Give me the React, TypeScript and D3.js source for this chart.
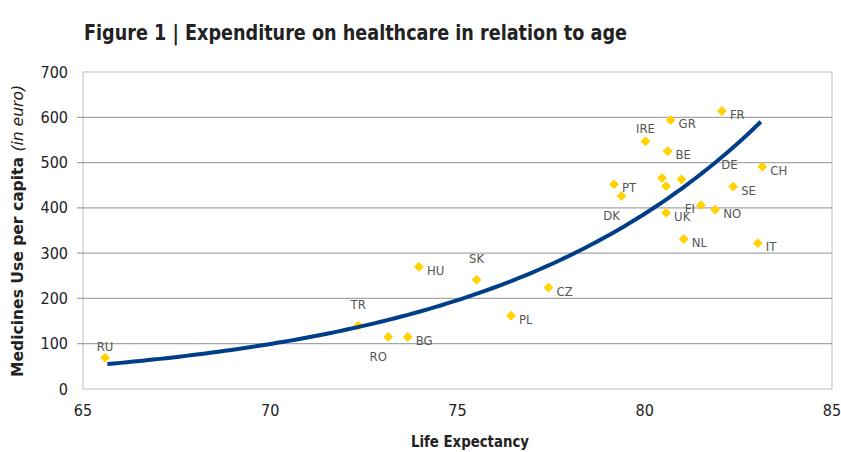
import React from "react";
import * as d3 from "d3";

// ---- data ----
const countries = ["RU","TR","RO","BG","HU","SK","PL","CZ","PT","DK","IRE","GR","BE","","","DE","UK","NL","FI","NO","SE","FR","CH","IT"];
const lifeExpectancy = [65.59,72.35,73.15,73.67,73.97,75.51,76.43,77.43,79.18,79.38,80.02,80.69,80.61,80.46,80.57,80.98,80.57,81.04,81.5,81.88,82.36,82.06,83.14,83.02];
const medicinesUse = [69,140,115,115,270,241,162,224,452,426,547,594,525,466,448,463,389,331,406,396,447,614,491,322];
const labelPlacement = ["aboveL","aboveHigh","belowL","right","right","aboveHigh","right","right","right","belowL","above","right","right","none","none","de","right","right","left","right","right","right","right","right"];
// exponential trendline: start and end points
const trendX = [65.65, 83.1];
const trendY = [55, 590];
const xTicks = [65,70,75,80,85];
const yTicks = [0,100,200,300,400,500,600,700];

const W = 841, H = 452;
const plot = { left: 83, right: 832, top: 72, bottom: 389 };
const FONT = "'DejaVu Sans Condensed', 'DejaVu Sans', sans-serif";
const cond: React.CSSProperties = { fontStretch: "condensed" };

export default function App() {
  const x = d3.scaleLinear().domain([65, 85]).range([plot.left, plot.right]);
  const y = d3.scaleLinear().domain([0, 700]).range([plot.bottom, plot.top]);

  const b = Math.log(trendY[1] / trendY[0]) / (trendX[1] - trendX[0]);
  const trendPts = d3.range(0, 101).map(i => {
    const xv = trendX[0] + (trendX[1] - trendX[0]) * i / 100;
    return [xv, trendY[0] * Math.exp(b * (xv - trendX[0]))] as [number, number];
  });
  const line = d3.line<[number, number]>().x(d => x(d[0])).y(d => y(d[1]));

  const diamond = d3.symbol().type(d3.symbolDiamond2).size(62)();

  const labelPos = (p: string, px: number, py: number) => {
    switch (p) {
      case "right": return { x: px + 8, y: py + 8, anchor: "start" };
      case "left": return { x: px - 6, y: py + 8, anchor: "end" };
      case "above": return { x: px, y: py - 8, anchor: "middle" };
      case "aboveL": return { x: px, y: py - 7, anchor: "middle" };
      case "aboveHigh": return { x: px, y: py - 17, anchor: "middle" };
      case "belowL": return { x: px - 10, y: py + 24, anchor: "middle" };
      case "de": return { x: px + 48, y: py - 10, anchor: "middle" };
      default: return null;
    }
  };

  return (
    <svg width={W} height={H} style={{ display: "block", position: "absolute", left: 0, top: 0, background: "#fff" }}>
      <text x={84} y={40} fontFamily={FONT} style={cond} fontWeight="bold" fontSize={22} fill="#222"
        textLength={543} lengthAdjust="spacingAndGlyphs">Figure 1 | Expenditure on healthcare in relation to age</text>

      <rect x={plot.left} y={plot.top} width={plot.right - plot.left} height={plot.bottom - plot.top}
        fill="none" stroke="#c8c8c8" strokeWidth={1.2} />
      {yTicks.filter(t => t > 0 && t < 700).map(t => (
        <line key={t} x1={plot.left - 6} x2={plot.right} y1={y(t)} y2={y(t)} stroke="#a6a6a6" strokeWidth={1.3} />
      ))}
      {yTicks.map(t => (
        <text key={"yl"+t} x={68} y={y(t) + 5.5} textAnchor="end" fontFamily={FONT} style={cond} fontSize={16} fill="#222">{t}</text>
      ))}
      {xTicks.map(t => (
        <text key={"xl"+t} x={x(t)} y={416} textAnchor="middle" fontFamily={FONT} style={cond} fontSize={16} fill="#222">{t}</text>
      ))}

      <text x={470} y={447} textAnchor="middle" fontFamily={FONT} style={cond} fontWeight="bold" fontSize={16} fill="#222"
        textLength={118} lengthAdjust="spacingAndGlyphs">Life Expectancy</text>
      <text transform="translate(23,231) rotate(-90)" textAnchor="middle" fontFamily={FONT} style={cond} fontSize={16} fill="#222"
        textLength={292} lengthAdjust="spacingAndGlyphs">
        <tspan fontWeight="bold">Medicines Use per capita </tspan><tspan fontStyle="italic">(in euro)</tspan>
      </text>

      {countries.map((c, i) => (
        <path key={"p"+i} d={diamond} transform={`translate(${x(lifeExpectancy[i])},${y(medicinesUse[i])})`} fill="#FFD200" />
      ))}

      <path d={line(trendPts) || ""} fill="none" stroke="#003f87" strokeWidth={4} />

      {countries.map((c, i) => {
        const p = labelPos(labelPlacement[i], x(lifeExpectancy[i]), y(medicinesUse[i]));
        if (!p || !c) return null;
        return <text key={"l"+i} x={p.x} y={p.y} textAnchor={p.anchor as any} fontFamily={FONT} style={cond} fontSize={13} fill="#555">{c}</text>;
      })}
    </svg>
  );
}
